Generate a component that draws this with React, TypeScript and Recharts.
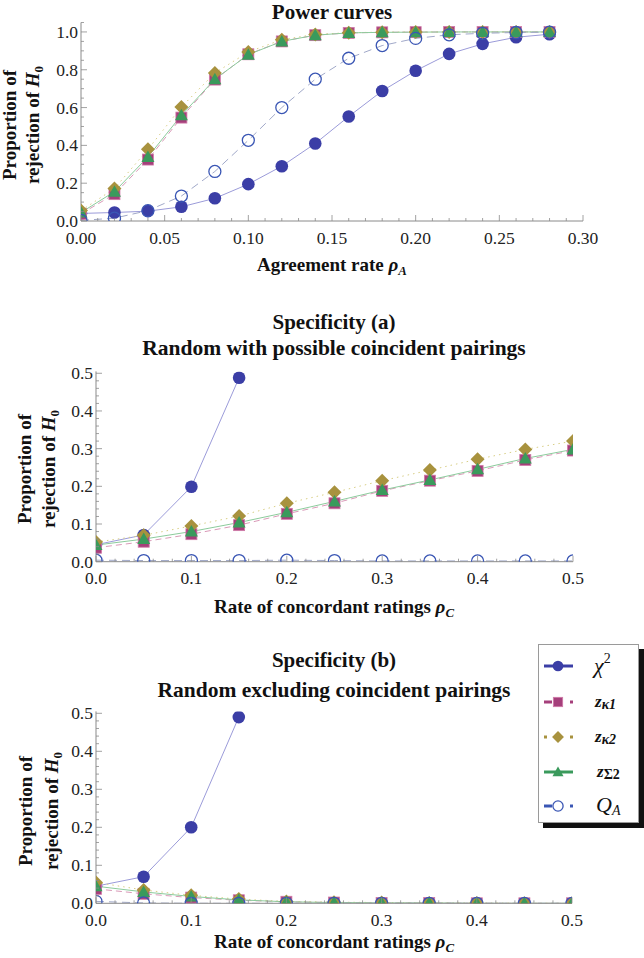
import React from 'react';
import { LineChart, Line, XAxis, YAxis } from 'recharts';

// Power curves: agreement rate rho_A
const powerRates = [0, 0.02, 0.04, 0.06, 0.08, 0.1, 0.12, 0.14, 0.16, 0.18, 0.2, 0.22, 0.24, 0.26, 0.28];
const powerChi2 = [0.04, 0.045, 0.052, 0.075, 0.12, 0.195, 0.29, 0.41, 0.553, 0.688, 0.795, 0.884, 0.937, 0.972, 0.988];
const powerZk1 = [0.038, 0.142, 0.325, 0.547, 0.748, 0.882, 0.95, 0.983, 0.995, 0.998, 0.999, 1, 1, 1, 1];
const powerZk2 = [0.055, 0.172, 0.379, 0.603, 0.783, 0.894, 0.959, 0.987, 0.996, 0.999, 1, 1, 1, 1, 1];
const powerZs2 = [0.045, 0.155, 0.339, 0.559, 0.75, 0.88, 0.95, 0.983, 0.995, 0.998, 0.999, 1, 1, 1, 1];
const powerQa = [0.003, 0.015, 0.055, 0.132, 0.262, 0.427, 0.6, 0.75, 0.861, 0.928, 0.966, 0.985, 0.993, 0.997, 0.999];

// Specificity: rate of concordant ratings rho_C
const concordRates = [0, 0.05, 0.1, 0.15, 0.2, 0.25, 0.3, 0.35, 0.4, 0.45, 0.5];

const specAChi2 = [0.045, 0.071, 0.199, 0.488, null, null, null, null, null, null, null];
const specAZk1 = [0.037, 0.053, 0.073, 0.097, 0.127, 0.155, 0.188, 0.215, 0.241, 0.27, 0.295];
const specAZk2 = [0.052, 0.07, 0.095, 0.121, 0.155, 0.184, 0.215, 0.243, 0.272, 0.298, 0.32];
const specAZs2 = [0.044, 0.06, 0.08, 0.104, 0.131, 0.16, 0.19, 0.217, 0.245, 0.274, 0.298];
const specAQa = [0.004, 0.003, 0.003, 0.003, 0.004, 0.003, 0.002, 0.002, 0.002, 0.002, 0.002];

const specBChi2 = [0.045, 0.07, 0.2, 0.49, null, null, null, null, null, null, null];
const specBZk1 = [0.038, 0.025, 0.015, 0.008, 0.004, 0.002, 0.001, 0.001, 0, 0, 0];
const specBZk2 = [0.055, 0.035, 0.021, 0.011, 0.005, 0.003, 0.002, 0.001, 0.001, 0, 0];
const specBZs2 = [0.045, 0.03, 0.018, 0.009, 0.004, 0.002, 0.001, 0.001, 0, 0, 0];
const specBQa = [0.005, 0.001, 0, 0, 0, 0, 0, 0, 0, 0, 0];

// tick labels
const powerXLabels = [0, 0.05, 0.1, 0.15, 0.2, 0.25, 0.3];
const powerYLabels = [0, 0.2, 0.4, 0.6, 0.8, 1.0];
const specXLabels = [0, 0.1, 0.2, 0.3, 0.4, 0.5];
const specYLabels = [0, 0.1, 0.2, 0.3, 0.4, 0.5];

const SERIF = "'Liberation Serif', 'Times New Roman', Tinos, 'DejaVu Serif', serif";
const X_AXIS_H = 32;
const TICK_FONT = 17.5;

type Shape = 'disc' | 'square' | 'diamond' | 'triangle' | 'ring';

const SERIES: { key: string; shape: Shape; marker: string; line: string; dash?: string }[] = [
  { key: 'chi2', shape: 'disc', marker: '#3b3ea6', line: '#9b9bd9' },
  { key: 'zk1', shape: 'square', marker: '#a53f7b', line: '#d99ab8', dash: '6 4' },
  { key: 'zk2', shape: 'diamond', marker: '#a8923e', line: '#d8ce86', dash: '1.5 4' },
  { key: 'zs2', shape: 'triangle', marker: '#3a9a5c', line: '#8ccb9c' },
  { key: 'qa', shape: 'ring', marker: '#3a56b4', line: '#a0a8c8', dash: '8 5' },
];

function steps(from: number, to: number, step: number) {
  const out: number[] = [];
  const n = Math.round((to - from) / step);
  for (let i = 0; i <= n; i++) out.push(Math.round((from + i * step) * 10000) / 10000);
  return out;
}

function buildRows(xs: number[], chi2: any[], zk1: number[], zk2: number[], zs2: number[], qa: number[]) {
  return xs.map((x, i) => ({ x, chi2: chi2[i], zk1: zk1[i], zk2: zk2[i], zs2: zs2[i], qa: qa[i] }));
}

const Marker = ({ shape, cx, cy, color, s = 1 }: { shape: Shape; cx: number; cy: number; color: string; s?: number }) => {
  switch (shape) {
    case 'disc':
      return <circle cx={cx} cy={cy} r={6.3 * s} fill={color} />;
    case 'square':
      return <rect x={cx - 5.5 * s} y={cy - 5.5 * s} width={11 * s} height={11 * s} fill={color} stroke="#d07aa8" strokeWidth={0.8} />;
    case 'diamond':
      return (
        <polygon
          points={`${cx},${cy - 7 * s} ${cx + 7 * s},${cy} ${cx},${cy + 7 * s} ${cx - 7 * s},${cy}`}
          fill={color}
        />
      );
    case 'triangle':
      return (
        <polygon
          points={`${cx},${cy - 6.5 * s} ${cx + 6.5 * s},${cy + 5 * s} ${cx - 6.5 * s},${cy + 5 * s}`}
          fill={color}
        />
      );
    default:
      return <circle cx={cx} cy={cy} r={6 * s} fill="none" stroke={color} strokeWidth={1.3} />;
  }
};

// markers are cut at the plot frame, like the original
const dotRenderer = (shape: Shape, color: string, clipId: string) => (p: any) => {
  const { cx, cy, index } = p;
  if (cx == null || cy == null || p.value == null) return <g key={`d-${index}`} />;
  return (
    <g key={`d-${index}`} clipPath={`url(#${clipId})`}>
      <Marker shape={shape} cx={cx} cy={cy} color={color} />
    </g>
  );
};

const isMajor = (v: number, majors: number[]) => majors.some(m => Math.abs(m - v) < 1e-6);

const makeXTick = (majors: number[], digits: number) => (props: any) => {
  const { x, y, payload } = props;
  const major = isMajor(payload.value, majors);
  return (
    <g>
      <line x1={x} x2={x} y1={y} y2={y - (major ? 6 : 3)} stroke="#8a8a8a" strokeWidth={0.8} />
      {major && (
        <text x={x} y={y + 16.5} textAnchor="middle" dominantBaseline="central" fontFamily={SERIF} fontSize={TICK_FONT} fill="#222">
          {payload.value.toFixed(digits)}
        </text>
      )}
    </g>
  );
};

const makeYTick = (majors: number[], digits: number) => (props: any) => {
  const { x, y, payload } = props;
  const major = isMajor(payload.value, majors);
  return (
    <g>
      <line x1={x} x2={x + (major ? 6 : 3)} y1={y} y2={y} stroke="#8a8a8a" strokeWidth={0.8} />
      {major && (
        <text x={x - 3} y={y} textAnchor="end" dominantBaseline="central" fontFamily={SERIF} fontSize={TICK_FONT} fill="#222">
          {payload.value.toFixed(digits)}
        </text>
      )}
    </g>
  );
};

interface PanelProps {
  id: string;
  rows: any[];
  top: number;
  height: number;
  marginTop: number;
  axisLeft: number;
  marginRight: number;
  xDomain: [number, number];
  yDomain: [number, number];
  xTicks: number[];
  yTicks: number[];
  xMajors: number[];
  yMajors: number[];
  xDigits: number;
}

const Panel = (p: PanelProps) => {
  const clipId = `plotclip-${p.id}`;
  const plotW = 644 - p.axisLeft - p.marginRight;
  const plotH = p.height - X_AXIS_H - p.marginTop;
  return (
    <div style={{ position: 'absolute', left: 0, top: p.top }}>
      <svg width={0} height={0} style={{ position: 'absolute' }}>
        <defs>
          <clipPath id={clipId}>
            <rect x={p.axisLeft} y={p.marginTop} width={plotW} height={plotH} />
          </clipPath>
        </defs>
      </svg>
      <LineChart width={644} height={p.height} data={p.rows} margin={{ top: p.marginTop, right: p.marginRight, bottom: 0, left: 0 }}>
        <XAxis
          dataKey="x"
          type="number"
          domain={p.xDomain}
          ticks={p.xTicks}
          interval={0}
          allowDataOverflow
          height={X_AXIS_H}
          tickSize={0}
          tickMargin={0}
          tickLine={false}
          axisLine={{ stroke: '#8a8a8a', strokeWidth: 1 }}
          tick={makeXTick(p.xMajors, p.xDigits)}
        />
        <YAxis
          type="number"
          domain={p.yDomain}
          ticks={p.yTicks}
          interval={0}
          allowDataOverflow
          width={p.axisLeft}
          tickSize={0}
          tickMargin={0}
          tickLine={false}
          axisLine={{ stroke: '#8a8a8a', strokeWidth: 1 }}
          tick={makeYTick(p.yMajors, 1)}
        />
        {SERIES.map(s => (
          <Line
            key={s.key}
            dataKey={s.key}
            type="linear"
            stroke={s.line}
            strokeWidth={1}
            strokeDasharray={s.dash}
            dot={dotRenderer(s.shape, s.marker, clipId)}
            activeDot={false}
            isAnimationActive={false}
          />
        ))}
      </LineChart>
    </div>
  );
};

const Centered = ({ x, y, size, children, rotate = false, bold = true }: any) => (
  <div
    style={{
      position: 'absolute',
      left: x - 300,
      top: y - 14,
      width: 600,
      height: 28,
      lineHeight: '28px',
      textAlign: 'center',
      fontFamily: SERIF,
      fontWeight: bold ? 'bold' : 'normal',
      fontSize: size,
      color: '#111',
      whiteSpace: 'nowrap',
      transform: rotate ? 'rotate(-90deg)' : undefined,
    }}
  >
    {children}
  </div>
);

const Sub = ({ children, italic = false }: any) => (
  <span style={{ fontSize: '0.68em', verticalAlign: '-0.3em', fontStyle: italic ? 'italic' : 'normal' }}>{children}</span>
);

const H0 = () => (
  <>
    <i>H</i>
    <Sub>0</Sub>
  </>
);

const YLabel = ({ x1, x2, y }: { x1: number; x2: number; y: number }) => (
  <>
    <Centered x={x1} y={y} size={19} rotate>
      Proportion of
    </Centered>
    <Centered x={x2} y={y} size={19} rotate>
      rejection of <H0 />
    </Centered>
  </>
);

const LegendBox = () => {
  const rows: { shape: Shape; color: string; y: number; kind: 'solid' | 'dash' | 'dot' }[] = [
    { shape: 'disc', color: '#3b3ea6', y: 21, kind: 'solid' },
    { shape: 'square', color: '#a53f7b', y: 57, kind: 'dash' },
    { shape: 'diamond', color: '#a8923e', y: 92, kind: 'dot' },
    { shape: 'triangle', color: '#3a9a5c', y: 127, kind: 'solid' },
    { shape: 'ring', color: '#3a56b4', y: 161, kind: 'dash' },
  ];
  return (
    <div
      style={{
        position: 'absolute',
        left: 538,
        top: 644,
        width: 99,
        height: 177,
        border: '1px solid #9a9a9a',
        background: '#fff',
        boxShadow: '5px 5px 0 #111',
      }}
    >
      <svg width={99} height={177} style={{ display: 'block' }}>
        {rows.map((r, i) => (
          <g key={i}>
            {r.kind === 'solid' && <line x1={5} x2={34} y1={r.y} y2={r.y} stroke={r.color} strokeWidth={3} />}
            {r.kind === 'dash' && <line x1={5} x2={13} y1={r.y} y2={r.y} stroke={r.color} strokeWidth={3} />}
            {r.kind === 'dot' && <line x1={5} x2={8} y1={r.y} y2={r.y} stroke={r.color} strokeWidth={3} />}
            {r.kind !== 'solid' && <line x1={31} x2={34} y1={r.y} y2={r.y} stroke={r.color} strokeWidth={3} />}
            <Marker shape={r.shape} cx={19} cy={r.y} color={r.color} s={0.85} />
          </g>
        ))}
        <text x={55} y={28} fontFamily={SERIF} fontSize={22} fontStyle="italic" fill="#111">
          χ<tspan fontSize={14} dy={-10} fontStyle="normal">2</tspan>
        </text>
        <text x={56} y={62} fontFamily={SERIF} fontSize={17} fontStyle="italic" fontWeight="bold" fill="#111">
          z<tspan fontSize={14} dy={2}>κ1</tspan>
        </text>
        <text x={56} y={97} fontFamily={SERIF} fontSize={17} fontStyle="italic" fontWeight="bold" fill="#111">
          z<tspan fontSize={14} dy={2}>κ2</tspan>
        </text>
        <text x={58} y={132} fontFamily={SERIF} fontSize={17} fontStyle="italic" fontWeight="bold" fill="#111">
          z<tspan fontSize={14} dy={2} fontStyle="normal">Σ2</tspan>
        </text>
        <text x={57} y={167} fontFamily={SERIF} fontSize={22} fontStyle="italic" fill="#111">
          Q<tspan fontSize={14} dy={3}>A</tspan>
        </text>
      </svg>
    </div>
  );
};

export default function App() {
  const powerRows = buildRows(powerRates, powerChi2, powerZk1, powerZk2, powerZs2, powerQa);
  const specARows = buildRows(concordRates, specAChi2, specAZk1, specAZk2, specAZs2, specAQa);
  const specBRows = buildRows(concordRates, specBChi2, specBZk1, specBZk2, specBZs2, specBQa);

  return (
    <div style={{ position: 'absolute', left: 0, top: 0, width: 644, height: 958, background: '#fff', overflow: 'hidden' }}>
      <Panel
        id="power"
        rows={powerRows}
        top={0}
        height={253}
        marginTop={22.5}
        axisLeft={81}
        marginRight={61}
        xDomain={[0, 0.3]}
        yDomain={[0, 1.05]}
        xTicks={steps(0, 0.3, 0.01)}
        yTicks={steps(0, 1.05, 0.05)}
        xMajors={powerXLabels}
        yMajors={powerYLabels}
        xDigits={2}
      />
      <Panel
        id="specA"
        rows={specARows}
        top={300}
        height={293.7}
        marginTop={71.4}
        axisLeft={96}
        marginRight={71}
        xDomain={[0, 0.5]}
        yDomain={[0, 0.505]}
        xTicks={steps(0, 0.5, 0.02)}
        yTicks={steps(0, 0.5, 0.02)}
        xMajors={specXLabels}
        yMajors={specYLabels}
        xDigits={1}
      />
      <Panel
        id="specB"
        rows={specBRows}
        top={640}
        height={295.3}
        marginTop={71.4}
        axisLeft={96}
        marginRight={72}
        xDomain={[0, 0.5]}
        yDomain={[0, 0.505]}
        xTicks={steps(0, 0.5, 0.02)}
        yTicks={steps(0, 0.5, 0.02)}
        xMajors={specXLabels}
        yMajors={specYLabels}
        xDigits={1}
      />

      <Centered x={332} y={12} size={21}>Power curves</Centered>
      <Centered x={332} y={265} size={19}>
        Agreement rate <i>ρ</i>
        <Sub italic>A</Sub>
      </Centered>
      <YLabel x1={10} x2={33} y={125} />

      <Centered x={334} y={322} size={21}>Specificity (a)</Centered>
      <Centered x={334} y={348} size={21.5}>Random with possible coincident pairings</Centered>
      <Centered x={334} y={607} size={19}>
        Rate of concordant ratings <i>ρ</i>
        <Sub italic>C</Sub>
      </Centered>
      <YLabel x1={25} x2={49} y={469} />

      <Centered x={334} y={660} size={21}>Specificity (b)</Centered>
      <Centered x={334} y={690} size={21.5}>Random excluding coincident pairings</Centered>
      <Centered x={334} y={942} size={19}>
        Rate of concordant ratings <i>ρ</i>
        <Sub italic>C</Sub>
      </Centered>
      <YLabel x1={26} x2={52} y={811} />

      <LegendBox />
    </div>
  );
}
